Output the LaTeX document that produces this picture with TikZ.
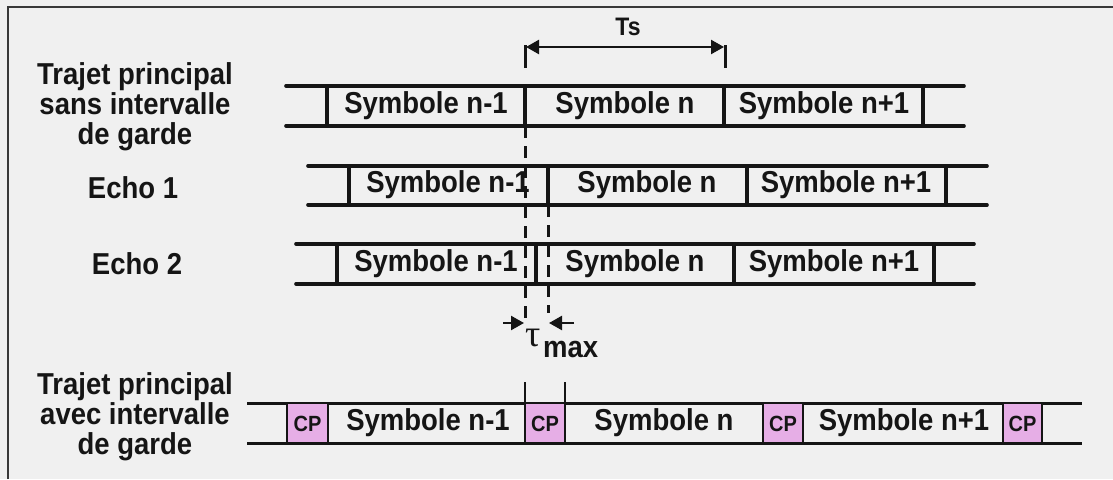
\documentclass[tikz,border=0pt]{standalone}
\usepackage{fontspec}
\setmainfont{Liberation Sans}
\newfontfamily\serifgreek{Liberation Serif}
\usetikzlibrary{arrows.meta}
\definecolor{bgc}{HTML}{F0F0F0}
\definecolor{cpc}{HTML}{E6AEE6}
\definecolor{ink}{HTML}{151515}
\newcommand{\vs}[1]{\scalebox{1}[1.1]{#1}}
\tikzset{
  lab/.style={font=\fontsize{27.5}{30}\selectfont\bfseries, align=center, inner sep=0pt, text=ink},
  sym/.style={font=\fontsize{27.5}{30}\selectfont\bfseries, inner sep=0pt, text=ink},
  cptext/.style={font=\fontsize{20}{22}\selectfont\bfseries, inner sep=0pt, text=ink},
  rail/.style={draw=ink, line width=3.6pt, line cap=round},
  divider/.style={draw=ink, line width=3.6pt},
  thinrail/.style={draw=ink, line width=3pt},
  cpbox/.style={draw=ink, line width=2.6pt, fill=cpc},
  dashline/.style={draw=ink, line width=3pt, dash pattern=on 12pt off 8pt},
  dimarrow/.style={draw=ink, line width=2.4pt, -{Triangle[length=13pt,width=14pt]}},
  tick/.style={draw=ink, line width=3pt}
}
\begin{document}
\begin{tikzpicture}[x=1pt,y=-1pt]
\fill[bgc] (0,0) rectangle (1113,479);
\useasboundingbox (0,0) rectangle (1113,479);
% frame
\coordinate (fbl) at (8,479);
\coordinate (ftl) at (8,7);
\coordinate (ftr) at (1113,7);
\draw[draw=ink!85, line width=2.6pt] (fbl) -- (ftl) -- (ftr);

% left labels
\node[lab] (l1) at (135,107) {\vs{Trajet principal}\\\vs{sans intervalle}\\\vs{de garde}};
\node[lab] (l2) at (133,188) {\vs{Echo 1}};
\node[lab] (l3) at (137,264) {\vs{Echo 2}};
\node[lab] (l4) at (135,417) {\vs{Trajet principal}\\\vs{avec intervalle}\\\vs{de garde}};

% row 1 : 286 327 525 724 923 964 ; y 86-126
\coordinate (r1a) at (286,86); \coordinate (r1b) at (964,86);
\coordinate (r1c) at (286,126); \coordinate (r1d) at (964,126);
\draw[rail] (r1a) -- (r1b);
\draw[rail] (r1c) -- (r1d);
\foreach \x/\n in {327/a,525/b,724/c,923/d}{
  \coordinate (r1t\n) at (\x,86); \coordinate (r1u\n) at (\x,126);
  \draw[divider] (r1t\n) -- (r1u\n);
}
\node[sym] (s11) at (426,106) {\vs{Symbole n-1}};
\node[sym] (s12) at (625,106) {\vs{Symbole n}};
\node[sym] (s13) at (824,106) {\vs{Symbole n+1}};

% row 2 : 308 349 548 747 946 987 ; y 166-205
\coordinate (r2a) at (308,166); \coordinate (r2b) at (987,166);
\coordinate (r2c) at (308,205); \coordinate (r2d) at (987,205);
\draw[rail] (r2a) -- (r2b);
\draw[rail] (r2c) -- (r2d);
\foreach \x/\n in {349/a,548/b,747/c,946/d}{
  \coordinate (r2t\n) at (\x,166); \coordinate (r2u\n) at (\x,205);
  \draw[divider] (r2t\n) -- (r2u\n);
}
\node[sym] (s21) at (448,185) {\vs{Symbole n-1}};
\node[sym] (s22) at (647,185) {\vs{Symbole n}};
\node[sym] (s23) at (846,185) {\vs{Symbole n+1}};

% row 3 : 296 337 536 734 934 974 ; y 244-284
\coordinate (r3a) at (296,244); \coordinate (r3b) at (974,244);
\coordinate (r3c) at (296,284); \coordinate (r3d) at (974,284);
\draw[rail] (r3a) -- (r3b);
\draw[rail] (r3c) -- (r3d);
\foreach \x/\n in {337/a,536/b,734/c,934/d}{
  \coordinate (r3t\n) at (\x,244); \coordinate (r3u\n) at (\x,284);
  \draw[divider] (r3t\n) -- (r3u\n);
}
\node[sym] (s31) at (436,264) {\vs{Symbole n-1}};
\node[sym] (s32) at (635,264) {\vs{Symbole n}};
\node[sym] (s33) at (834,264) {\vs{Symbole n+1}};

% Ts dimension
\coordinate (tsL0) at (525,45); \coordinate (tsL1) at (525,68);
\coordinate (tsR0) at (725,45); \coordinate (tsR1) at (725,68);
\coordinate (tsM) at (625,47);
\draw[tick] (tsL0) -- (tsL1);
\draw[tick] (tsR0) -- (tsR1);
\draw[dimarrow] (tsM) -- (526,47);
\draw[dimarrow] (tsM) -- (724,47);
\node[font=\fontsize{23}{25}\selectfont\bfseries, text=ink, inner sep=0pt] (ts) at (628,27) {\vs{Ts}};

% dashed lines
\coordinate (dA) at (525,320);
\coordinate (dB) at (548,313);
\draw[dashline] (r1ub) -- (dA);
\draw[dashline] (r2ub) -- (dB);

% tau max arrows
\coordinate (tl0) at (503,323); \coordinate (tl1) at (524,323);
\coordinate (tr0) at (574,323); \coordinate (tr1) at (549,323);
\draw[dimarrow] (tl0) -- (tl1);
\draw[dimarrow] (tr0) -- (tr1);
\node[inner sep=0pt, text=ink, anchor=base] (tau) at (533,346) {\fontsize{38}{40}\selectfont\serifgreek τ};
\node[sym, anchor=base west] (tmax) at (543,357) {\vs{max}};

% bottom row
\coordinate (b1a) at (247,403); \coordinate (b1b) at (1082,403);
\coordinate (b1c) at (247,443); \coordinate (b1d) at (1082,443);
\draw[thinrail] (b1a) -- (b1b);
\draw[thinrail] (b1c) -- (b1d);
\foreach \xa/\xb/\n in {287/328/1,525/565/2,763/803/3,1003/1042/4}{
  \draw[cpbox] (\xa,403) rectangle (\xb,443);
  \node[cptext] (cp\n) at ({(\xa+\xb)/2},424) {\vs{CP}};
}
\coordinate (g1) at (525,382); \coordinate (g1b) at (525,403);
\coordinate (g2) at (565,382); \coordinate (g2b) at (565,403);
\draw[draw=ink, line width=2.6pt] (g1) -- (g1b);
\draw[draw=ink, line width=2.6pt] (g2) -- (g2b);
\node[sym] (b1) at (428,423) {\vs{Symbole n-1}};
\node[sym] (b2) at (664,423) {\vs{Symbole n}};
\node[sym] (b3) at (904,423) {\vs{Symbole n+1}};
\end{tikzpicture}
\end{document}
